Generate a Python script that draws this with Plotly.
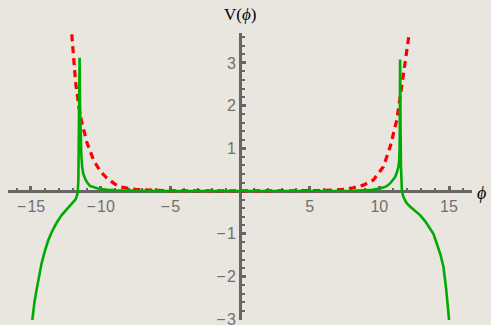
import plotly.graph_objects as go

# Green curve (solid)
green_x = [-15.2, -14.93, -14.75, -14.6, -14.4, -14.24, -14.0, -13.76, -13.5, -13.16, -12.8, -12.44,
           -12.1, -11.92, -11.8, -11.7, -11.64,
           -11.6, -11.57, -11.54, -11.51, -11.48, -11.45, -11.42, -11.39, -11.33, -11.25, -11.1,
           -11.0, -10.77, -10.53, -10.2, -9.93, -9.5, -8.9, -8.0, -7.0, -5.0, 0.0,
           5.0, 7.0, 8.0, 8.9, 9.5, 10.05, 10.5, 10.77, 11.0, 11.13, 11.25, 11.37, 11.42, 11.45, 11.47,
           11.49, 11.52, 11.55, 11.58, 11.62, 11.67, 11.72, 11.85, 11.97, 12.2, 12.5, 12.92, 13.28,
           13.6, 13.88, 14.2, 14.4, 14.6, 14.8, 15.0, 15.2]
green_y = [-3.8, -3.0, -2.6, -2.31, -1.95, -1.69, -1.4, -1.15, -0.95, -0.74, -0.56, -0.43,
           -0.31, -0.25, -0.19, -0.1, 0.0,
           0.26, 0.9, 2.0, 3.12, 2.0, 1.3, 1.0, 0.85, 0.58, 0.41, 0.28,
           0.22, 0.12, 0.09, 0.06, 0.05, 0.03, 0.02, 0.01, 0.005, 0.002, 0.0,
           0.002, 0.005, 0.01, 0.02, 0.03, 0.06, 0.11, 0.18, 0.26, 0.33, 0.43, 0.57, 0.7, 0.9, 1.5,
           3.08, 1.5, 0.6, 0.2, 0.0, -0.06, -0.13, -0.22, -0.28, -0.36, -0.45, -0.56, -0.7,
           -0.86, -1.0, -1.3, -1.5, -1.77, -2.3, -3.0, -3.8]

# Red curve (dashed)
red_x = [-12.14, -12.08, -11.8, -11.49, -11.0, -10.5, -10.0, -9.57, -9.0, -8.6, -8.0, -7.5, -7.0,
         -6.0, -5.0, -4.0, 0.0, 4.0, 5.0, 6.0, 6.7, 7.5, 8.13, 8.85, 9.57, 10.29, 10.77, 11.25,
         11.6, 11.97, 12.16, 12.22]
red_y = [3.95, 3.72, 2.55, 1.8, 1.15, 0.72, 0.45, 0.31, 0.17, 0.1, 0.06, 0.04, 0.03,
         0.015, 0.01, 0.005, 0.0, 0.005, 0.01, 0.015, 0.02, 0.04, 0.08, 0.14, 0.26, 0.57, 1.03, 1.66,
         2.44, 3.22, 3.72, 3.95]

x_tickvals = [-15, -10, -5, 5, 10, 15]
x_ticktext = ["\u2212\u200a15", "\u2212\u200a10", "\u2212\u200a5", "5", "10", "15"]
y_tickvals = [-3, -2, -1, 1, 2, 3]
y_ticktext = ["\u2212\u200a3", "\u2212\u200a2", "\u2212\u200a1", "1", "2", "3"]

x_range = [-16.65, 16.65]
y_range = [-3.015, 3.7]

axis_col = "#666666"
label_col = "#707070"
bg = "#e8e6df"

fig = go.Figure()
fig.add_trace(go.Scatter(x=red_x, y=red_y, mode="lines",
                         line=dict(color="#ff0000", width=3.2, dash="7px,5px")))
fig.add_trace(go.Scatter(x=green_x, y=green_y, mode="lines",
                         line=dict(color="#00aa00", width=2.6)))

fig.update_layout(
    width=491, height=325,
    margin=dict(l=8, r=19, t=33, b=5, autoexpand=False),
    paper_bgcolor=bg, plot_bgcolor=bg,
    showlegend=False,
    font=dict(family="Liberation Sans, Arial, sans-serif", size=16, color=label_col),
    xaxis=dict(
        range=x_range, anchor="free", position=(0 - y_range[0]) / (y_range[1] - y_range[0]),
        automargin=False,
        showgrid=False, zeroline=False, showline=True, linecolor=axis_col, linewidth=3,
        layer="below traces",
        tickmode="array", tickvals=x_tickvals, ticktext=x_ticktext,
        ticks="inside", ticklen=4, tickwidth=3, tickcolor=axis_col,
        minor=dict(tickmode="linear", tick0=0, dtick=1, ticks="inside", ticklen=2.5,
                   tickwidth=2, tickcolor=axis_col),
        tickfont=dict(size=16, color=label_col),
        ticklabelstandoff=0, ticklabeloverflow="allow",
    ),
    yaxis=dict(
        range=y_range, anchor="free", position=(0 - x_range[0]) / (x_range[1] - x_range[0]),
        automargin=False,
        showgrid=False, zeroline=False, showline=True, linecolor=axis_col, linewidth=3,
        layer="below traces",
        tickmode="array", tickvals=y_tickvals, ticktext=y_ticktext,
        ticks="inside", ticklen=4, tickwidth=3, tickcolor=axis_col,
        minor=dict(tickmode="linear", tick0=0, dtick=0.2, ticks="inside", ticklen=2.5,
                   tickwidth=2, tickcolor=axis_col),
        tickfont=dict(size=16, color=label_col),
        ticklabelstandoff=0, ticklabeloverflow="allow",
    ),
    annotations=[
        dict(text="V(<i>\u03d5</i>)", xref="paper", yref="paper", x=0.5, y=1.063,
             xanchor="center", yanchor="middle", showarrow=False,
             font=dict(family="Liberation Serif, serif", size=17, color="#000000")),
        dict(text="<i>\u03d5</i>", xref="paper", yref="paper", x=1.035, y=0.4425,
             xanchor="right", yanchor="middle", showarrow=False,
             font=dict(family="Liberation Serif, serif", size=18, color="#000000")),
    ],
)

fig.write_html("out.html", config={"displayModeBar": False},
               post_script="document.body.style.margin='0';document.body.style.padding='0';"
                           "document.body.style.overflow='hidden';")
